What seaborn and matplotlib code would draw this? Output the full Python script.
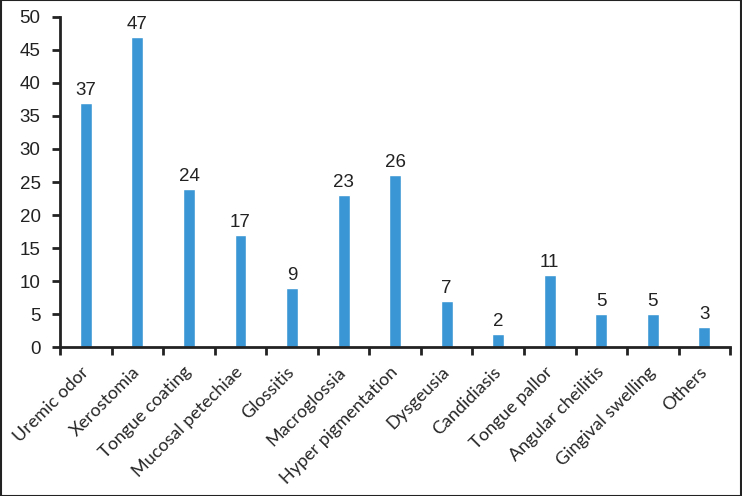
import matplotlib
matplotlib.use("Agg")
import matplotlib.pyplot as plt
import seaborn as sb
import pandas as pd
from matplotlib.patches import Rectangle

# data
categories = ['Uremic odor', 'Xerostomia', 'Tongue coating', 'Mucosal petechiae',
              'Glossitis', 'Macroglossia', 'Hyper pigmentation', 'Dysgeusia',
              'Candidiasis', 'Tongue pallor', 'Angular cheilitis',
              'Gingival swelling', 'Others']
counts = [37, 47, 24, 17, 9, 23, 26, 7, 2, 11, 5, 5, 3]
y_ticks = [0, 5, 10, 15, 20, 25, 30, 35, 40, 45, 50]

df = pd.DataFrame({'cat': categories, 'n': counts})

sb.set_style('white')
plt.rcParams['font.family'] = ['Liberation Sans', 'DejaVu Sans']

fig = plt.figure(figsize=(7.42, 4.96), dpi=100)
ax = fig.add_axes([0.081, 0.300, 0.903, 0.666])

sb.barplot(data=df, x='cat', y='n', color='#3A96D4', saturation=1,
           width=0.23, ax=ax)

# value labels above bars
for i, v in enumerate(counts):
    ax.text(i, v + 0.6, str(v), ha='center', va='bottom', fontsize=13.5,
            color='#222222')

ax.set_xlim(-0.5, len(categories) - 0.5)
ax.set_ylim(0, 50)
ax.set_yticks(y_ticks)
ax.set_xlabel('')
ax.set_ylabel('')

# ticks at category boundaries, labels at centers
ax.set_xticks(range(len(categories)))
ax.set_xticklabels(categories, rotation=45, ha='right', va='center',
                   rotation_mode='anchor', fontsize=13,
                   family=['Lato', 'DejaVu Sans'])
ax.set_xticks([i - 0.5 for i in range(len(categories) + 1)], minor=True)
ax.tick_params(axis='x', which='major', length=0, pad=16)
ax.tick_params(axis='x', which='minor', length=6, width=2, direction='out',
               color='#222222')
ax.tick_params(axis='y', length=6, width=2, direction='out', color='#222222',
               labelsize=13.5, pad=8, labelcolor='#222222')
ax.xaxis.set_ticks_position('bottom')
ax.yaxis.set_ticks_position('left')

for s in ['top', 'right']:
    ax.spines[s].set_visible(False)
for s in ['left', 'bottom']:
    ax.spines[s].set_linewidth(2)
    ax.spines[s].set_color('#222222')

# frame around the whole picture
fig.patches.append(Rectangle((0.001, 0.001), 0.998, 0.998, transform=fig.transFigure,
                             fill=False, edgecolor='#222222', linewidth=1.5))

fig.savefig('out.png', dpi=100)
